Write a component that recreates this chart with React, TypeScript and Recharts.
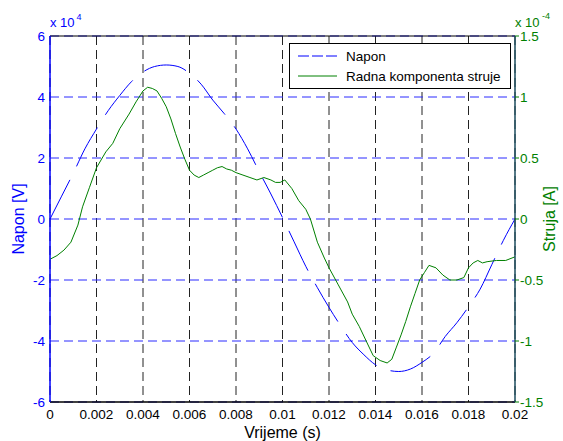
import { CartesianGrid, ComposedChart, Label, Line, ReferenceLine, XAxis, YAxis } from "recharts"

const FONT = '"Liberation Sans", Arial, Helvetica, sans-serif'
const BLUE = "#0000ff"
const GREEN = "#008000"

const timeTicks = [0, 0.002, 0.004, 0.006, 0.008, 0.01, 0.012, 0.014, 0.016, 0.018, 0.02]
const naponTicks = [-6, -4, -2, 0, 2, 4, 6]
const strujaTicks = [-1.5, -1, -0.5, 0, 0.5, 1, 1.5]

// Napon, x 10^4 V
const naponTime = [
  0, 0.0005, 0.001, 0.0015, 0.002, 0.0025, 0.003, 0.0035, 0.004, 0.0045, 0.005, 0.0055, 0.006, 0.0065,
  0.007, 0.0075, 0.008, 0.0085, 0.009, 0.0095, 0.01, 0.0105, 0.011, 0.0115, 0.012, 0.0125, 0.013, 0.0135,
  0.014, 0.0145, 0.015, 0.0155, 0.016, 0.0165, 0.017, 0.0175, 0.018, 0.0185, 0.019, 0.0195, 0.02,
]
const naponValues = [
  0, 0.75, 1.5, 2.3, 2.95, 3.55, 4.05, 4.5, 4.82, 5.0, 5.05, 5.0, 4.78, 4.42,
  3.9, 3.45, 2.95, 2.3, 1.55, 0.82, 0.05, -0.75, -1.55, -2.25, -2.9, -3.5, -4.05, -4.45,
  -4.78, -4.95, -5.0, -4.92, -4.7, -4.4, -3.85, -3.4, -2.88, -2.3, -1.5, -0.7, 0,
]

// Radna komponenta struje, x 10^-4 A
const strujaTime = [
  0, 0.0003, 0.0006, 0.0009, 0.0012, 0.0014, 0.0017, 0.002, 0.0024, 0.0027,
  0.003, 0.0034, 0.0037, 0.004, 0.0042, 0.0044, 0.0046, 0.0048, 0.005, 0.0052,
  0.0054, 0.0056, 0.0058, 0.006, 0.0062, 0.0064, 0.0066, 0.0068, 0.007, 0.0072,
  0.0074, 0.0076, 0.0078, 0.008, 0.0083, 0.0086, 0.0089, 0.0092, 0.0095, 0.0097,
  0.0099, 0.0101, 0.0104, 0.0107, 0.011, 0.0112, 0.0115, 0.0118, 0.012, 0.0124,
  0.0128, 0.013, 0.0133, 0.0136, 0.0139, 0.0142, 0.0145, 0.0147, 0.0149, 0.0151,
  0.0153, 0.0155, 0.0157, 0.0159, 0.0161, 0.0163, 0.0166, 0.0169, 0.0172, 0.0175,
  0.0178, 0.018, 0.0182, 0.0184, 0.0186, 0.0188, 0.0192, 0.0196, 0.02,
]
const strujaValues = [
  -0.33, -0.3, -0.255, -0.19, -0.05, 0.1, 0.26, 0.42, 0.55, 0.62,
  0.74, 0.86, 0.96, 1.05, 1.08, 1.07, 1.05, 0.99, 0.92, 0.82,
  0.7, 0.59, 0.49, 0.4, 0.36, 0.34, 0.36, 0.38, 0.4, 0.42,
  0.43, 0.41, 0.4, 0.38, 0.36, 0.34, 0.32, 0.34, 0.32, 0.3,
  0.3, 0.32, 0.25, 0.15, 0.08, 0, -0.19, -0.32, -0.4, -0.54,
  -0.68, -0.78, -0.88, -1.0, -1.12, -1.16, -1.18, -1.15, -1.05, -0.95,
  -0.84, -0.72, -0.61, -0.5, -0.44, -0.38, -0.4, -0.46, -0.5, -0.5,
  -0.48, -0.4, -0.36, -0.34, -0.36, -0.35, -0.34, -0.34, -0.31,
]

const naponData = naponTime.map((t, i) => ({ t, v: naponValues[i] }))
const strujaData = strujaTime.map((t, i) => ({ t, a: strujaValues[i] }))

function sideLabel(text: string, color: string, dx: number) {
  return (props: any) => {
    const vb = props.viewBox || { x: 0, y: 36, width: 50, height: 366 }
    const x = vb.x + dx
    const y = vb.y + vb.height / 2
    return (
      <text
        x={x}
        y={y}
        transform={`rotate(-90, ${x}, ${y})`}
        textAnchor="middle"
        dominantBaseline="central"
        fill={color}
        fontSize={16}
        fontFamily={FONT}
      >
        {text}
      </text>
    )
  }
}

export default function App() {
  const tickFont = { fontSize: 13.5, fontFamily: FONT }
  return (
    <div style={{ position: "absolute", left: 0, top: 0, width: 563, height: 441, background: "#fff", fontFamily: FONT }}>
      <ComposedChart width={563} height={441} margin={{ top: 36, right: 0, bottom: 0, left: 0 }}>
        <CartesianGrid xAxisId="x" yAxisId="left" horizontal={false} stroke="#222" strokeDasharray="9 5" />
        <CartesianGrid xAxisId="x" yAxisId="left" vertical={false} stroke="#2b2bff" strokeDasharray="9 5" />
        <XAxis
          xAxisId="x"
          dataKey="t"
          type="number"
          domain={[0, 0.02]}
          ticks={timeTicks}
          allowDataOverflow
          height={39}
          tickSize={0}
          tickMargin={7}
          tick={{ ...tickFont, fill: "#000" }}
          axisLine={{ stroke: "#000", strokeWidth: 1.5 }}
        >
          <Label value="Vrijeme (s)" position="insideBottom" offset={3} fill="#000" fontSize={16} fontFamily={FONT} />
        </XAxis>
        <YAxis
          yAxisId="left"
          type="number"
          domain={[-6, 6]}
          ticks={naponTicks}
          allowDataOverflow
          width={50}
          tickSize={0}
          tickMargin={5}
          tick={{ ...tickFont, fill: BLUE }}
          axisLine={{ stroke: BLUE, strokeWidth: 1.5 }}
        >
          <Label content={sideLabel("Napon [V]", BLUE, 18)} />
        </YAxis>
        <YAxis
          yAxisId="right"
          orientation="right"
          type="number"
          domain={[-1.5, 1.5]}
          ticks={strujaTicks}
          allowDataOverflow
          width={48}
          tickSize={4}
          tickMargin={1}
          tickLine={{ stroke: GREEN }}
          tick={{ ...tickFont, fill: GREEN }}
          axisLine={{ stroke: "#1d4c5e", strokeWidth: 1.5 }}
        >
          <Label content={sideLabel("Struja [A]", GREEN, 34)} />
        </YAxis>
        <ReferenceLine xAxisId="x" yAxisId="left" y={6} stroke="#000" strokeWidth={1} />
        <Line
          xAxisId="x"
          yAxisId="left"
          data={naponData}
          dataKey="v"
          type="monotone"
          stroke={BLUE}
          strokeWidth={1}
          strokeDasharray="44 15"
          dot={false}
          isAnimationActive={false}
        />
        <Line
          xAxisId="x"
          yAxisId="right"
          data={strujaData}
          dataKey="a"
          type="linear"
          stroke={GREEN}
          strokeWidth={1}
          dot={false}
          isAnimationActive={false}
        />
      </ComposedChart>
      <svg
        width={563}
        height={441}
        style={{ position: "absolute", left: 0, top: 0, pointerEvents: "none" }}
        fontFamily={FONT}
      >
        <text x={50} y={27} fontSize={13} fill={BLUE}>
          x 10
        </text>
        <text x={76.5} y={20} fontSize={9} fill={BLUE}>
          4
        </text>
        <text x={515} y={27} fontSize={13} fill={GREEN}>
          x 10
        </text>
        <text x={542} y={19} fontSize={9} fill={GREEN}>
          -4
        </text>
        <rect x={289.5} y={43.5} width={221} height={45} fill="#fff" stroke="#000" strokeWidth={1} />
        <line x1={298} y1={56} x2={337} y2={56} stroke={BLUE} strokeWidth={1} strokeDasharray="11 3" />
        <text x={346} y={60.5} fontSize={13.5} fill="#000">
          Napon
        </text>
        <line x1={298} y1={76} x2={337} y2={76} stroke={GREEN} strokeWidth={1} />
        <text x={346} y={80.5} fontSize={13.5} fill="#000">
          Radna komponenta struje
        </text>
      </svg>
    </div>
  )
}
